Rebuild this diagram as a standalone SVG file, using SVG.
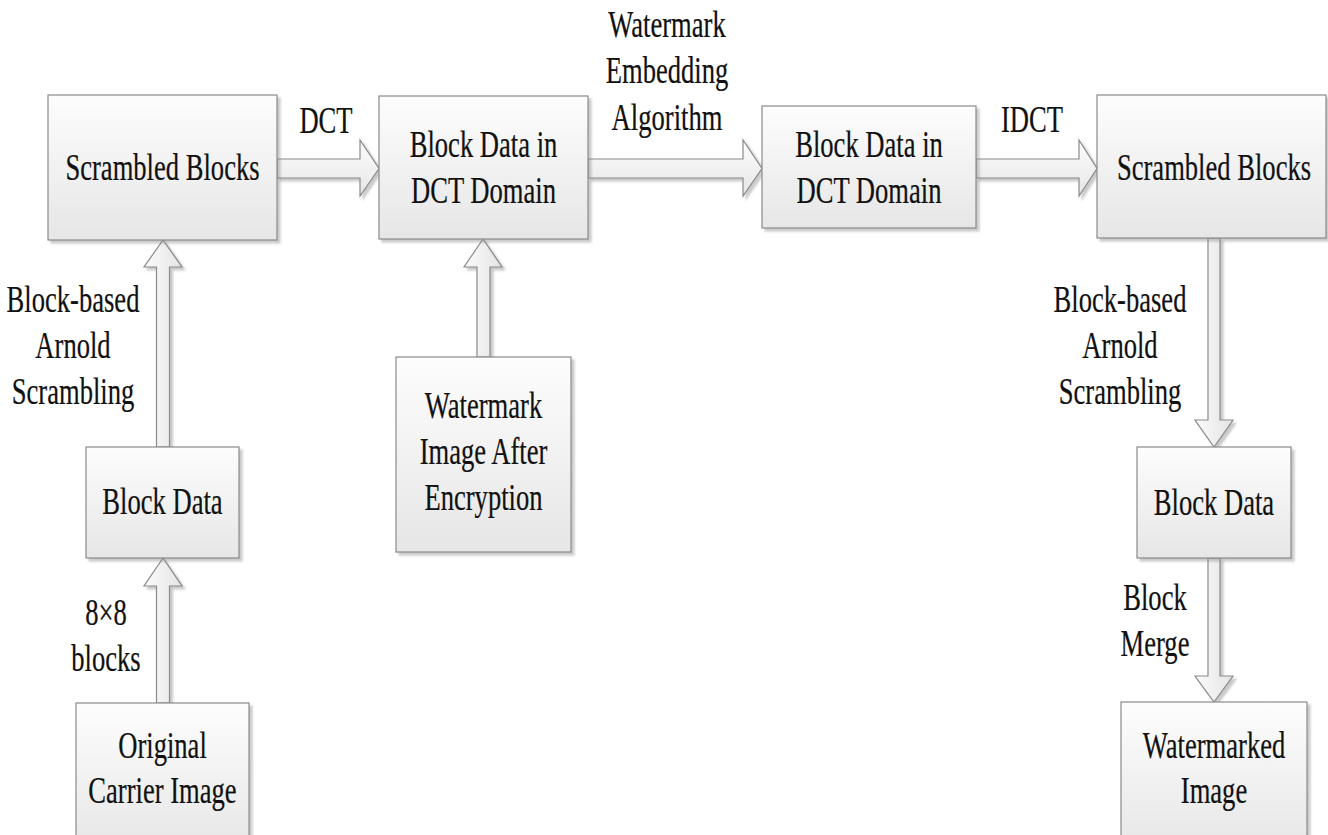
<svg xmlns="http://www.w3.org/2000/svg" width="1328" height="835" viewBox="0 0 1328 835">
<defs>
<linearGradient id="g" x1="0" y1="0" x2="0" y2="1">
<stop offset="0" stop-color="#fdfdfd"/>
<stop offset="1" stop-color="#e6e6e6"/>
</linearGradient>
<linearGradient id="gv" x1="0" y1="0" x2="1" y2="0">
<stop offset="0" stop-color="#fbfbfb"/>
<stop offset="1" stop-color="#e4e4e4"/>
</linearGradient>
<filter id="sh" x="-10%" y="-10%" width="130%" height="130%">
<feDropShadow dx="3" dy="3" stdDeviation="1.2" flood-color="#8a8a8a" flood-opacity="0.45"/>
</filter>
</defs>
<style>
.box{fill:url(#g);stroke:#8a8a8a;stroke-width:1.2;filter:url(#sh)}
.ah{fill:url(#g);stroke:#8a8a8a;stroke-width:1.2;filter:url(#sh)}
.av{fill:url(#gv);stroke:#8a8a8a;stroke-width:1.2;filter:url(#sh)}
text{font-family:"Liberation Serif","Times New Roman",serif;font-size:38px;fill:#111;stroke:#111;stroke-width:0.25;text-anchor:middle}
</style>
<rect width="1328" height="835" fill="#fff"/>

<g id="connectors">
<polygon class="ah" points="277,159 360,159 360,140 379,168.5 360,196 360,178 277,178"/>
<polygon class="ah" points="588,159 743,159 743,140 762,168.5 743,196 743,178 588,178"/>
<polygon class="ah" points="976,159 1079,159 1079,140 1097,168.5 1079,196 1079,178 976,178"/>
<polygon class="av" points="156.5,447 156.5,267 144,267 163,240 182,267 169.5,267 169.5,447"/>
<polygon class="av" points="156.5,703 156.5,586 144,586 163,558 182,586 169.5,586 169.5,703"/>
<polygon class="av" points="477,357 477,267 464,267 483,239 502,267 490,267 490,357"/>
<polygon class="av" points="1208,238 1220,238 1220,420 1233,420 1214,447 1195,420 1208,420"/>
<polygon class="av" points="1208,558 1220,558 1220,676 1233,676 1214,702 1195,676 1208,676"/>
<text transform="translate(326 0) scale(0.7 1)"><tspan x="0" y="133">DCT</tspan></text>
<text transform="translate(667 0) scale(0.7 1)"><tspan x="0" y="37">Watermark</tspan><tspan x="0" y="83">Embedding</tspan><tspan x="0" y="130">Algorithm</tspan></text>
<text transform="translate(1032 0) scale(0.7 1)"><tspan x="0" y="132">IDCT</tspan></text>
<text transform="translate(73 0) scale(0.7 1)"><tspan x="0" y="312">Block-based</tspan><tspan x="0" y="358">Arnold</tspan><tspan x="0" y="404">Scrambling</tspan></text>
<text transform="translate(106 0) scale(0.7 1)"><tspan x="0" y="625">8×8</tspan><tspan x="0" y="671">blocks</tspan></text>
<text transform="translate(1120 0) scale(0.7 1)"><tspan x="0" y="312">Block-based</tspan><tspan x="0" y="358">Arnold</tspan><tspan x="0" y="404">Scrambling</tspan></text>
<text transform="translate(1155 0) scale(0.7 1)"><tspan x="0" y="610">Block</tspan><tspan x="0" y="656">Merge</tspan></text>
</g>

<g id="scrambled-left">
<rect class="box" x="48" y="95" width="229" height="145"/>
<text transform="translate(162.5 0) scale(0.7 1)"><tspan x="0" y="180">Scrambled Blocks</tspan></text>
</g>
<g id="dct-domain-1">
<rect class="box" x="379" y="96" width="209" height="143"/>
<text transform="translate(483.5 0) scale(0.7 1)"><tspan x="0" y="157">Block Data in</tspan><tspan x="0" y="203">DCT Domain</tspan></text>
</g>
<g id="dct-domain-2">
<rect class="box" x="762" y="106" width="214" height="122"/>
<text transform="translate(869 0) scale(0.7 1)"><tspan x="0" y="157">Block Data in</tspan><tspan x="0" y="203">DCT Domain</tspan></text>
</g>
<g id="scrambled-right">
<rect class="box" x="1097" y="95" width="229" height="143"/>
<text transform="translate(1214 0) scale(0.7 1)"><tspan x="0" y="180">Scrambled Blocks</tspan></text>
</g>
<g id="block-data-left">
<rect class="box" x="86" y="447" width="153" height="111"/>
<text transform="translate(162.5 0) scale(0.7 1)"><tspan x="0" y="514">Block Data</tspan></text>
</g>
<g id="original">
<rect class="box" x="76" y="703" width="173" height="150"/>
<text transform="translate(162.5 0) scale(0.7 1)"><tspan x="0" y="758">Original</tspan><tspan x="0" y="803">Carrier Image</tspan></text>
</g>
<g id="watermark-image">
<rect class="box" x="396" y="357" width="175" height="195"/>
<text transform="translate(483.5 0) scale(0.7 1)"><tspan x="0" y="418">Watermark</tspan><tspan x="0" y="464">Image After</tspan><tspan x="0" y="510">Encryption</tspan></text>
</g>
<g id="block-data-right">
<rect class="box" x="1137" y="447" width="154" height="111"/>
<text transform="translate(1214 0) scale(0.7 1)"><tspan x="0" y="515">Block Data</tspan></text>
</g>
<g id="watermarked">
<rect class="box" x="1121" y="702" width="186" height="150"/>
<text transform="translate(1214 0) scale(0.7 1)"><tspan x="0" y="758">Watermarked</tspan><tspan x="0" y="803">Image</tspan></text>
</g>
</svg>
